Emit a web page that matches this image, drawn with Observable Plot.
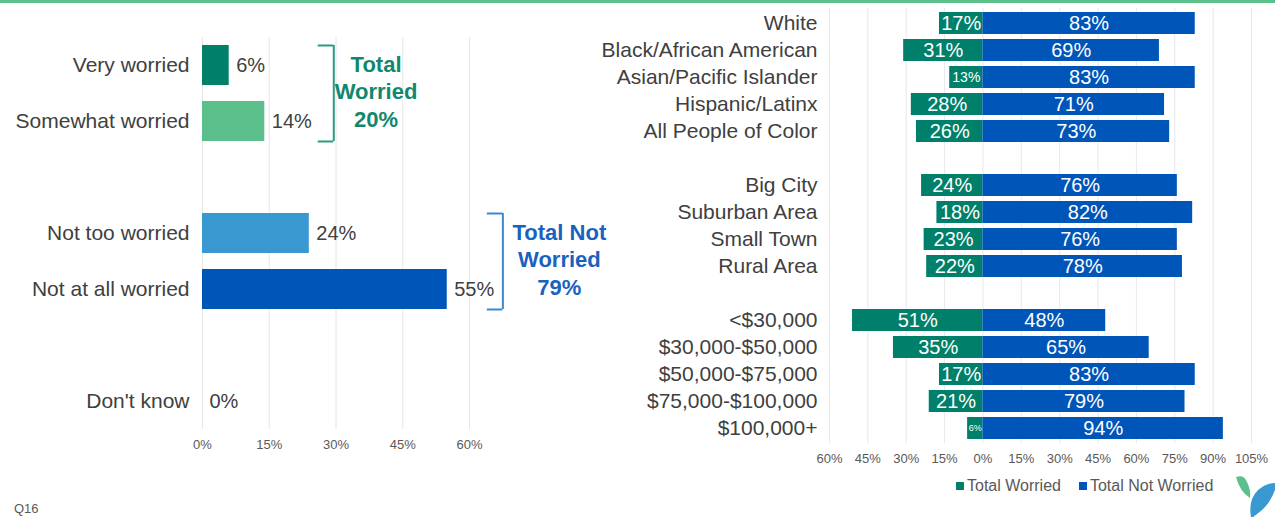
<!DOCTYPE html>
<html>
<head>
<meta charset="utf-8">
<script src="https://cdn.jsdelivr.net/npm/d3@7"></script>
<script src="https://cdn.jsdelivr.net/npm/@observablehq/plot@0.6"></script>
<style>
  body { margin: 0; background: #fff; font-family: "Liberation Sans", Arial, sans-serif; }
  #wrap { position: relative; width: 1275px; height: 517px; overflow: hidden; background: #fff; }
  #topline { position: absolute; left: 0; top: 0; width: 1275px; height: 3px; background: #5cc08c; }
  #left { position: absolute; left: 0; top: 0; }
  #right { position: absolute; left: 570px; top: 0; }
  #legend { position: absolute; top: 477px; left: 956px; font-size: 16px; color: #595959; display: flex; gap: 18px; white-space: nowrap; }
  #legend .item { display: flex; align-items: center; gap: 3px; }
  #legend .sw { width: 8px; height: 8px; display: inline-block; }
  #q { position: absolute; left: 14px; top: 502px; font-size: 13px; line-height: 14px; color: #595959; }
  #logo { position: absolute; left: 0; top: 0; }
</style>
</head>
<body>
<div id="wrap">
  <div id="topline"></div>
  <div id="left"></div>
  <div id="right"></div>
  <div id="legend"></div>
  <div id="q">Q16</div>
  <svg id="logo" width="1275" height="517" style="pointer-events:none">
    <path d="M1236,477 Q1244,474 1247,482 Q1251,490 1250,498 Q1240,492 1236,477 Z" fill="#5cc08c"/>
    <path d="M1251,517 Q1248,500 1258,490 Q1266,483 1275,483 L1275,490 Q1270,503 1262,510 Q1256,515 1253,517 Z" fill="#3a98d0"/>
  </svg>
</div>
<script>
// ---------- DATA ----------
const leftCategories = ["Very worried", "Somewhat worried", "Not too worried", "Not at all worried", "Don't know"];
const leftValues = [6, 14, 24, 55, 0];
const leftColors = ["#00806a", "#5bbf8c", "#3a98d0", "#0055b8", "#0055b8"];
const leftDomain = ["Very worried", "Somewhat worried", "gap1", "Not too worried", "Not at all worried", "gap2", "Don't know"];
const leftTicks = [0, 15, 30, 45, 60];

const groupNames = ["Total Worried", "Total Not Worried"];
const groupMembers = [["Very worried", "Somewhat worried"], ["Not too worried", "Not at all worried"]];
const groupColors = ["#12876f", "#1a62c0"];
const bracketColors = ["#2a9a80", "#3a88d0"];
const bracketX = [29.5, 67.5];
const groupLabelX = [39, 80.2];

const rightCategories = ["White", "Black/African American", "Asian/Pacific Islander", "Hispanic/Latinx", "All People of Color",
  "Big City", "Suburban Area", "Small Town", "Rural Area",
  "<$30,000", "$30,000-$50,000", "$50,000-$75,000", "$75,000-$100,000", "$100,000+"];
const worried =    [17, 31, 13, 28, 26, 24, 18, 23, 22, 51, 35, 17, 21, 6];
const notWorried = [83, 69, 83, 71, 73, 76, 82, 76, 78, 48, 65, 83, 79, 94];
const rightDomain = ["White", "Black/African American", "Asian/Pacific Islander", "Hispanic/Latinx", "All People of Color", "gap1",
  "Big City", "Suburban Area", "Small Town", "Rural Area", "gap2",
  "<$30,000", "$30,000-$50,000", "$50,000-$75,000", "$75,000-$100,000", "$100,000+"];
const rightTicks = [-60, -45, -30, -15, 0, 15, 30, 45, 60, 75, 90, 105];
const seriesNames = ["Total Worried", "Total Not Worried"];
const seriesColors = ["#00806a", "#0055b8"];

const FONT = '"Liberation Sans", Arial, sans-serif';
const gapFmt = d => String(d).startsWith("gap") ? "" : d;

// ---------- LEFT CHART ----------
const leftData = leftCategories.map((c, i) => ({c, v: leftValues[i]}));
const groups = groupNames.map((name, i) => ({
  name,
  top: groupMembers[i][0],
  bottom: groupMembers[i][1],
  total: d3.sum(groupMembers[i], m => leftValues[leftCategories.indexOf(m)]),
  bx: bracketX[i],
  tx: groupLabelX[i],
  color: groupColors[i],
  bcolor: bracketColors[i]
}));

const leftPlot = Plot.plot({
  width: 640, height: 460,
  marginLeft: 202, marginRight: 171, marginTop: 37, marginBottom: 31,
  style: {fontFamily: FONT, background: "transparent", overflow: "visible"},
  x: {domain: [0, 60]},
  y: {domain: leftDomain, paddingInner: 0.29, paddingOuter: 0.145},
  color: {domain: leftCategories, range: leftColors},
  marks: [
    Plot.gridX(leftTicks, {stroke: "#e6e6e6", strokeOpacity: 1}),
    Plot.axisX({ticks: leftTicks, tickFormat: d => d + "%", tickSize: 0, tickPadding: 10, fontSize: 13, fill: "#595959", label: null}),
    Plot.axisY({tickSize: 0, tickPadding: 13, fontSize: 21, fill: "#404040", tickFormat: gapFmt, label: null}),
    Plot.barX(leftData, {x: "v", y: "c", fill: "c"}),
    Plot.text(leftData, {x: "v", y: "c", text: d => d.v + "%", dx: 7, textAnchor: "start", fontSize: 20, fill: "#404040"}),
    ...groups.flatMap(g => [
      Plot.ruleX([g], {x: "bx", y1: "top", y2: "bottom", stroke: g.bcolor, strokeWidth: 2}),
      Plot.ruleY([g], {y: "top", x1: g.bx - 3.5, x2: g.bx, dy: -20, stroke: g.bcolor, strokeWidth: 2}),
      Plot.ruleY([g], {y: "bottom", x1: g.bx - 3.5, x2: g.bx, dy: 20, stroke: g.bcolor, strokeWidth: 2}),
      Plot.text([g], {x: "tx", y: "top", dy: 25, text: d => d.name.replace(/ (\S+)$/, "\n$1") + "\n" + d.total + "%",
        fontSize: 22, fontWeight: "bold", fill: g.color, lineHeight: 1.24})
    ])
  ]
});
document.getElementById("left").appendChild(leftPlot);

// ---------- RIGHT CHART ----------
const rightData = rightCategories.flatMap((c, i) => [
  {c, s: seriesNames[0], x1: -worried[i], x2: 0, v: worried[i]},
  {c, s: seriesNames[1], x1: 0, x2: notWorried[i], v: notWorried[i]}
]);

const rightPlot = Plot.plot({
  width: 705, height: 470,
  marginLeft: 259, marginRight: 24, marginTop: 8, marginBottom: 27,
  style: {fontFamily: FONT, background: "transparent", overflow: "visible"},
  x: {domain: [-60, 105]},
  y: {domain: rightDomain, paddingInner: 0.19, paddingOuter: 0.095},
  color: {domain: seriesNames, range: seriesColors},
  marks: [
    Plot.gridX(rightTicks, {stroke: "#e8e8ee", strokeOpacity: 1}),
    Plot.axisX({ticks: rightTicks, tickFormat: d => Math.abs(d) + "%", tickSize: 0, tickPadding: 10, fontSize: 13, fill: "#595959", label: null}),
    Plot.axisY({tickSize: 0, tickPadding: 12, fontSize: 21, fill: "#404040", tickFormat: gapFmt, label: null}),
    Plot.barX(rightData, {x1: "x1", x2: "x2", y: "c", fill: "s"}),
    Plot.text(rightData, {x: d => (d.x1 + d.x2) / 2, y: "c", text: d => d.v + "%", fill: "white",
      fontSize: d => d.v >= 15 ? 20 : d.v >= 10 ? 14 : 9})
  ]
});
document.getElementById("right").appendChild(rightPlot);

// ---------- LEGEND ----------
const legend = document.getElementById("legend");
seriesNames.forEach((name, i) => {
  const item = document.createElement("div");
  item.className = "item";
  const sw = document.createElement("span");
  sw.className = "sw";
  sw.style.background = seriesColors[i];
  const t = document.createElement("span");
  t.textContent = name;
  item.appendChild(sw);
  item.appendChild(t);
  legend.appendChild(item);
});
</script>
</body>
</html>
